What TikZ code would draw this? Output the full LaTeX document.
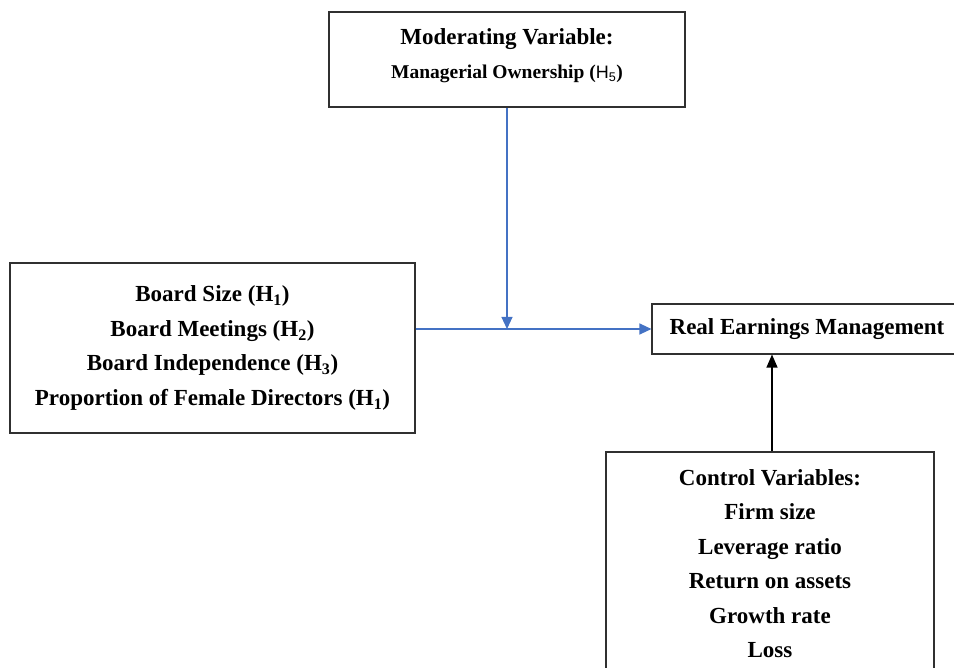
\documentclass[tikz,border=0pt]{standalone}
\usepackage{fontspec}
\setmainfont{Liberation Serif}
\newfontfamily\hsans{Liberation Sans}
\usetikzlibrary{arrows.meta}
\definecolor{arrowblue}{HTML}{4472C4}
\definecolor{boxline}{HTML}{303030}
\tikzset{
  box/.style={draw=boxline, line width=1.1pt, rectangle, align=center, inner sep=0pt,
    font=\fontsize{23}{34.5}\selectfont\bfseries},
  bluearrow/.style={draw=arrowblue, line width=1.1pt, -{Triangle[width=11pt,length=12pt]}},
  blackarrow/.style={draw=black, line width=1.1pt, -{Triangle[width=11pt,length=13pt]}}
}
\begin{document}
\begin{tikzpicture}[x=1pt,y=-1pt]
\useasboundingbox (0,0) rectangle (954,668);
\clip (0,0) rectangle (954,668);
\node[box, minimum width=356pt, minimum height=95pt] (mod) at (507,59.5)
  {Moderating Variable:\\[-1pt]{\fontsize{19.5}{34}\selectfont Managerial Ownership ({\hsans\mdseries\fontsize{18}{34}\selectfont H\textsubscript{5}})}\\[-23pt]\mbox{}};
\node[box, minimum width=405pt, minimum height=170pt] (iv) at (212.5,348)
  {Board Size (H\textsubscript{1})\\
   Board Meetings (H\textsubscript{2})\\
   Board Independence (H\textsubscript{3})\\
   Proportion of Female Directors (H\textsubscript{1})};
\node[box, minimum width=310pt, minimum height=50pt] (rem) at (807,329)
  {Real Earnings Management};
\node[box, minimum width=328pt, minimum height=223pt] (ctrl) at (770,563.5)
  {Control Variables:\\
   Firm size\\
   Leverage ratio\\
   Return on assets\\
   Growth rate\\
   Loss};
\coordinate (join) at (mod.south |- rem.west);
\draw[bluearrow] (iv.east |- rem.west) -- (rem.west);
\draw[bluearrow] (mod.south) -- (join);
\draw[blackarrow] ([xshift=2pt]ctrl.north) -- ([xshift=2pt]ctrl.north |- rem.south);
\end{tikzpicture}
\end{document}
